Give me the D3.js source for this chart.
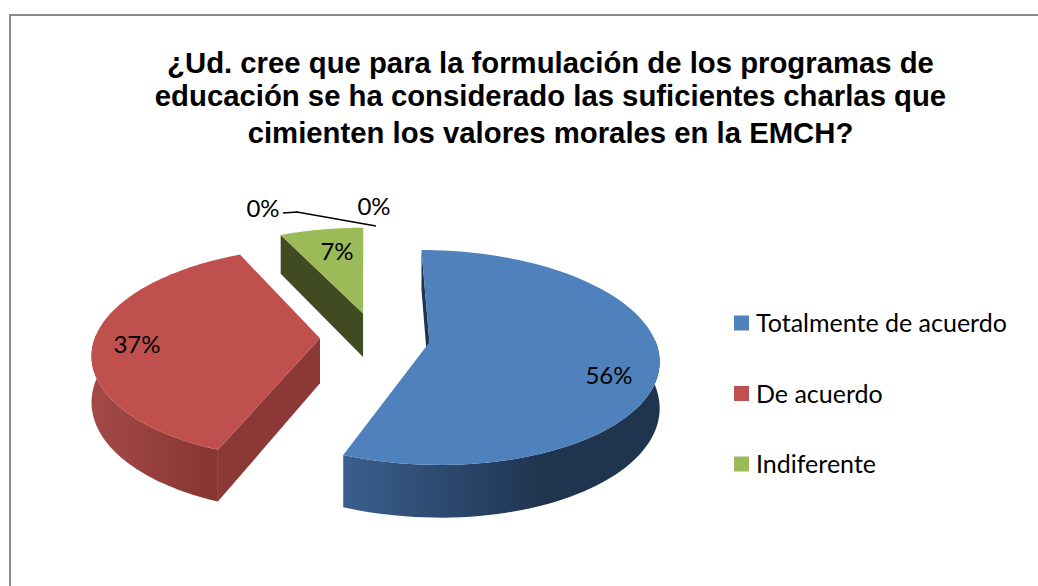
<!DOCTYPE html>
<html><head><meta charset="utf-8">
<script src="https://cdn.jsdelivr.net/npm/d3@7"></script>
<style>html,body{margin:0;padding:0;background:#fff}svg{display:block}</style>
</head><body><svg id="c" width="1038" height="586"></svg>
<script>
const categories = ["Totalmente de acuerdo", "De acuerdo", "Indiferente"];
const values = [56, 37, 7];
const valueLabels = ["56%", "37%", "7%"];
const zeroLabels = ["0%", "0%"];
const titleLines = ["¿Ud. cree que para la formulación de los programas de",
  "educación se ha considerado las suficientes charlas que",
  "cimienten los valores morales en la EMCH?"];
const topColors = ["#4f81bd", "#c0504d", "#9bbb59"];
const sideFace = ["#1f344f", "#8c3836", "#404b22"];
const wallStops = [["#3a5f8e", "#1f344f"], ["#a34a47", "#863432"], ["#404b22", "#404b22"]];

const svg = d3.select("#c");
const defs = svg.append("defs");
// frame
svg.append("rect").attr("x", 10).attr("y", 15).attr("width", 1100).attr("height", 700)
  .attr("fill", "#fff").attr("stroke", "#8c8c8c").attr("stroke-width", 2);

// title
const titleY = [73, 106, 143];
const title = svg.append("text").attr("text-anchor", "middle")
  .style("font", "bold 29.3px 'Liberation Sans'").attr("fill", "#000");
titleLines.forEach((t, i) => title.append("tspan").attr("x", 550.5).attr("y", titleY[i]).text(t));

// 3D projection of the pie plane
const vanishX = 365, planeY = 337.5, R = 225, tilt = 104, persp = 0.14, depth = 45, explode = 55, pieX = 10;
const project = (X, z, h = 0) => {
  const s = 1 / (1 - persp * z);
  return [vanishX + X * s, planeY + (tilt * z + h) * s];
};
const arcs = d3.pie().sort(null).startAngle(0).endAngle(2 * Math.PI)(values);
const line = d3.line();

const slices = arcs.map((a, i) => {
  const mid = (a.startAngle + a.endAngle) / 2;
  return { a, i, ax: pieX + explode * Math.sin(mid), az: -explode * Math.cos(mid) / R };
});
const rim = (s, t, h) => {
  const th = s.a.startAngle + t * (s.a.endAngle - s.a.startAngle);
  return project(s.ax + R * Math.sin(th), s.az - Math.cos(th), h);
};
const apex = (s, h) => project(s.ax, s.az, h);
const ts = d3.range(0, 1.0001, 0.01);

// far slices first
[2, 1, 0].forEach(i => {
  const s = slices[i], g = svg.append("g");
  // radial wall facing the viewer
  g.append("path").attr("fill", sideFace[i]).attr("d", line([
    rim(s, 0, 0), apex(s, 0), apex(s, depth), rim(s, 0, depth)]) + "Z");
  // outer wall, only the part facing the viewer
  const front = ts.filter(t => {
    const th = s.a.startAngle + t * (s.a.endAngle - s.a.startAngle);
    return Math.cos(th) < 0.05;
  });
  if (i !== 2 && front.length) {
    const top = front.map(t => rim(s, t, 0)), bot = front.map(t => rim(s, t, depth)).reverse();
    const xs = top.map(p => p[0]);
    const id = "wall" + i;
    const grad = defs.append("linearGradient").attr("id", id).attr("gradientUnits", "userSpaceOnUse")
      .attr("x1", d3.min(xs)).attr("x2", d3.min(xs) + (i === 0 ? 200 : 128))
      .attr("y1", 0).attr("y2", 0);
    grad.append("stop").attr("offset", 0).attr("stop-color", wallStops[i][0]);
    grad.append("stop").attr("offset", 1).attr("stop-color", wallStops[i][1]);
    g.append("path").attr("fill", `url(#${id})`).attr("d", line(top.concat(bot)) + "Z");
  }
  // top
  g.append("path").attr("fill", topColors[i])
    .attr("d", line([apex(s, 0)].concat(ts.map(t => rim(s, t, 0)))) + "Z");
});

// data labels
const labelFont = "24px Lato";
const labelPos = [[609, 376], [137, 345], [337, 252]];
valueLabels.forEach((t, i) => svg.append("text").attr("x", labelPos[i][0]).attr("y", labelPos[i][1] + 8)
  .attr("text-anchor", "middle").style("font", labelFont).attr("fill", "#000").text(t));
const zeroPos = [[263, 209], [374, 207]];
zeroLabels.forEach((t, i) => svg.append("text").attr("x", zeroPos[i][0]).attr("y", zeroPos[i][1] + 8)
  .attr("text-anchor", "middle").style("font", labelFont).attr("fill", "#000").text(t));
svg.append("path").attr("fill", "none").attr("stroke", "#000").attr("stroke-width", 1.6)
  .attr("d", line([[zeroPos[0][0] + 20, zeroPos[0][1] + 4], [zeroPos[0][0] + 34, zeroPos[0][1] + 3], [zeroPos[1][0] + 2, zeroPos[1][1] + 19]]));

// legend
categories.forEach((c, i) => {
  const y = 323 + i * 70.5;
  svg.append("rect").attr("x", 734).attr("y", y - 7.5).attr("width", 15).attr("height", 15).attr("fill", topColors[i]);
  svg.append("text").attr("x", 756).attr("y", y + 9).style("font", "25px Lato").attr("fill", "#000").text(c);
});
</script></body></html>
